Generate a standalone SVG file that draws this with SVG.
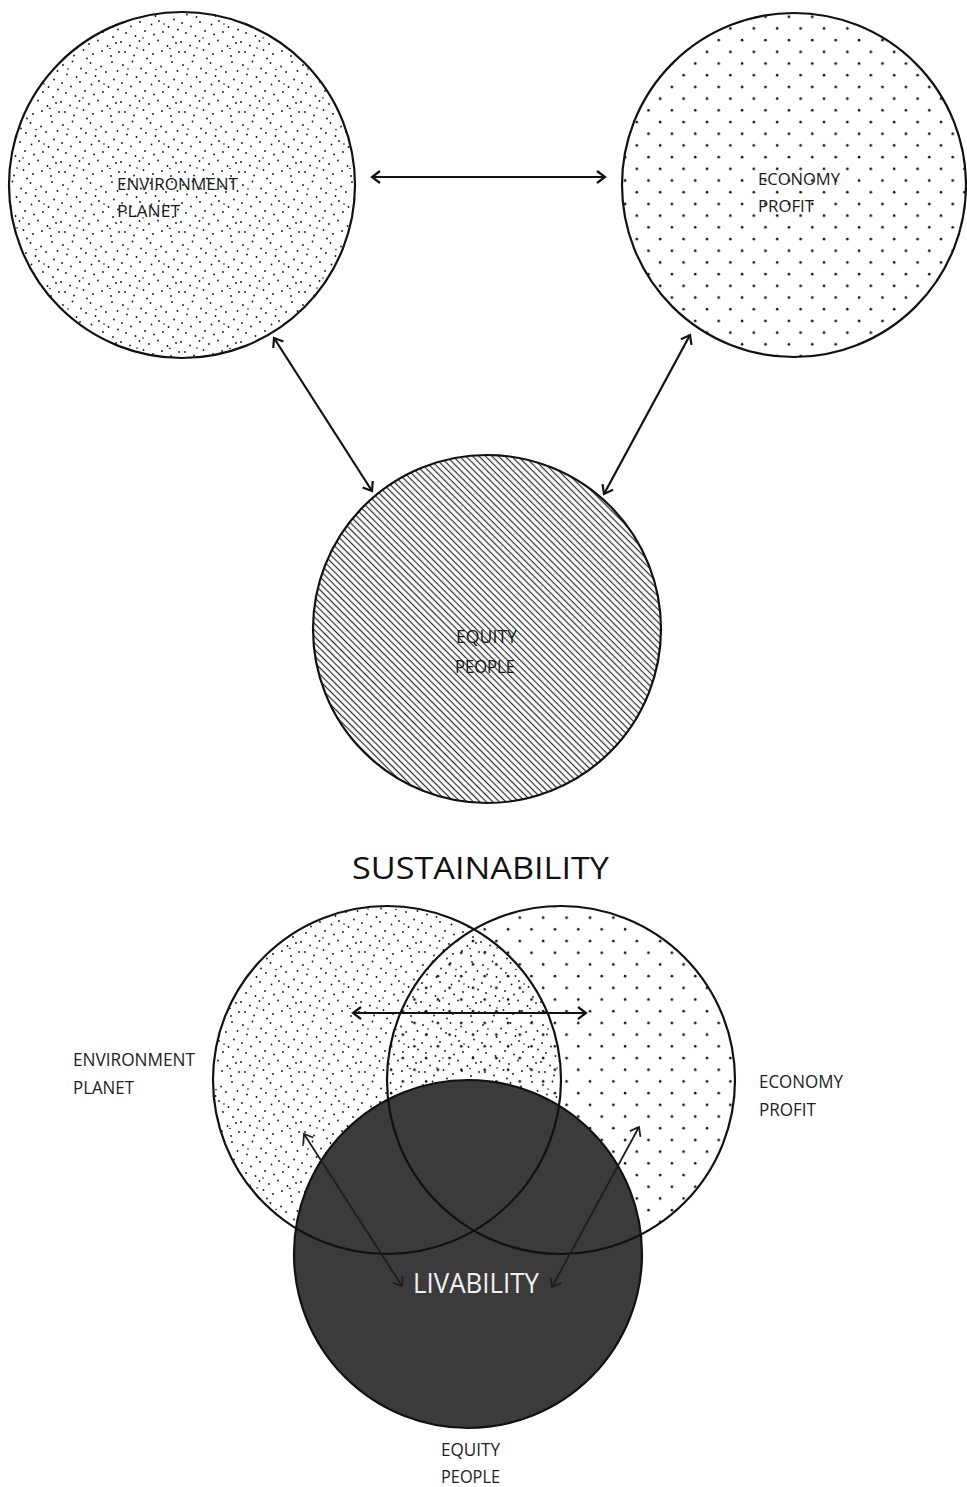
<svg xmlns="http://www.w3.org/2000/svg" width="967" height="1487" viewBox="0 0 967 1487">
<style>
.ring{fill:none;stroke:#111;stroke-width:2.2}
.conn{stroke:#111;stroke-width:2.2;fill:none}
.conn2{stroke:#1e1e1e;stroke-width:1.8;fill:none}
.lbl{font-family:"Open Sans","Noto Sans",sans-serif;fill:#1a1a1a}
.lblb{font-family:"Open Sans","Noto Sans",sans-serif;fill:#222}
</style>
<defs>
<pattern id="stip" width="60" height="60" patternUnits="userSpaceOnUse">
<g fill="#111">
<circle cx="3" cy="5" r="0.9"/><circle cx="12.5" cy="1.5" r="0.9"/><circle cx="21" cy="8.5" r="0.9"/><circle cx="30.5" cy="3" r="0.9"/><circle cx="41" cy="6.5" r="0.9"/><circle cx="52" cy="2" r="0.9"/><circle cx="57.5" cy="11" r="0.9"/>
<circle cx="7" cy="14.5" r="0.9"/><circle cx="16.5" cy="17" r="0.9"/><circle cx="26" cy="13" r="0.9"/><circle cx="35.5" cy="16" r="0.9"/><circle cx="46" cy="12" r="0.9"/><circle cx="54" cy="19.5" r="0.9"/>
<circle cx="2" cy="23" r="0.9"/><circle cx="11" cy="26.5" r="0.9"/><circle cx="20" cy="22" r="0.9"/><circle cx="31.5" cy="24.5" r="0.9"/><circle cx="39" cy="21" r="0.9"/><circle cx="48.5" cy="27" r="0.9"/><circle cx="58" cy="29.5" r="0.9"/>
<circle cx="6" cy="33" r="0.9"/><circle cx="15.5" cy="36" r="0.9"/><circle cx="25" cy="31" r="0.9"/><circle cx="34" cy="34.5" r="0.9"/><circle cx="43" cy="32" r="0.9"/><circle cx="53" cy="37" r="0.9"/>
<circle cx="1" cy="42" r="0.9"/><circle cx="10" cy="45.5" r="0.9"/><circle cx="19.5" cy="41" r="0.9"/><circle cx="29" cy="44" r="0.9"/><circle cx="38" cy="40.5" r="0.9"/><circle cx="47.5" cy="46" r="0.9"/><circle cx="56" cy="43" r="0.9"/>
<circle cx="5" cy="52" r="0.9"/><circle cx="14" cy="55.5" r="0.9"/><circle cx="23.5" cy="50" r="0.9"/><circle cx="33" cy="54" r="0.9"/><circle cx="42" cy="51" r="0.9"/><circle cx="51" cy="56" r="0.9"/><circle cx="59" cy="52" r="0.9"/><circle cx="27" cy="58.5" r="0.9"/>
<circle cx="8" cy="9" r="0.8"/><circle cx="36" cy="9.5" r="0.8"/><circle cx="23" cy="38" r="0.8"/><circle cx="44" cy="24" r="0.8"/><circle cx="17" cy="48" r="0.8"/><circle cx="50" cy="48.5" r="0.8"/>
</g>
</pattern>
<pattern id="dots" width="23.4" height="23.4" patternUnits="userSpaceOnUse">
<circle cx="5" cy="5" r="1.3" fill="#111"/><circle cx="16.7" cy="16.7" r="1.3" fill="#111"/>
</pattern>
<pattern id="hatch" width="4.6" height="10" patternUnits="userSpaceOnUse" patternTransform="rotate(-45)">
<line x1="2.3" y1="0" x2="2.3" y2="10" stroke="#2a2a2a" stroke-width="1.2"/>
</pattern>
<marker id="ah" viewBox="-10 -8 12 16" refX="0" refY="0" markerWidth="12" markerHeight="16" markerUnits="userSpaceOnUse" orient="auto-start-reverse">
<path d="M-8,-6 L0,0 L-8,6" fill="none" stroke="#111" stroke-width="2.2"/>
</marker>
<marker id="ah2" viewBox="-10 -8 12 16" refX="0" refY="0" markerWidth="12" markerHeight="16" markerUnits="userSpaceOnUse" orient="auto-start-reverse">
<path d="M-8,-6 L0,0 L-8,6" fill="none" stroke="#1e1e1e" stroke-width="1.8"/>
</marker>
</defs>
<rect width="967" height="1487" fill="#fff"/>

<!-- Top diagram -->
<g id="node-environment">
<circle cx="182" cy="185" r="173" fill="url(#stip)"/>
<circle cx="182" cy="185" r="173" class="ring"/>
<text class="lbl" font-size="16.5" x="117" y="190" textLength="121" lengthAdjust="spacingAndGlyphs">ENVIRONMENT</text>
<text class="lbl" font-size="16.5" x="117" y="217" textLength="63" lengthAdjust="spacingAndGlyphs">PLANET</text>
</g>
<g id="node-economy">
<circle cx="794" cy="185" r="172" fill="url(#dots)"/>
<circle cx="794" cy="185" r="172" class="ring"/>
<text class="lbl" font-size="17" x="758" y="185" textLength="82" lengthAdjust="spacingAndGlyphs">ECONOMY</text>
<text class="lbl" font-size="17" x="758" y="212" textLength="56" lengthAdjust="spacingAndGlyphs">PROFIT</text>
</g>
<g id="node-equity">
<circle cx="487" cy="629" r="174" fill="url(#hatch)"/>
<circle cx="487" cy="629" r="174" class="ring"/>
<text class="lbl" font-size="17.5" x="456" y="643" textLength="61" lengthAdjust="spacingAndGlyphs">EQUITY</text>
<text class="lbl" font-size="17.5" x="455" y="673" textLength="60" lengthAdjust="spacingAndGlyphs">PEOPLE</text>
</g>
<g id="connectors-top">
<line class="conn" x1="372" y1="177" x2="605" y2="177" marker-start="url(#ah)" marker-end="url(#ah)"/>
<line class="conn" x1="274" y1="338" x2="372" y2="491" marker-start="url(#ah)" marker-end="url(#ah)"/>
<line class="conn" x1="690" y1="335" x2="604" y2="494" marker-start="url(#ah)" marker-end="url(#ah)"/>
</g>

<!-- Title -->
<text id="title" font-family="Open Sans, Noto Sans, sans-serif" font-size="31" x="352" y="879" textLength="257" lengthAdjust="spacingAndGlyphs" fill="#111">SUSTAINABILITY</text>

<!-- Bottom Venn -->
<g id="venn-environment">
<circle cx="387" cy="1080" r="174" fill="url(#stip)"/>
</g>
<g id="venn-economy">
<circle cx="561" cy="1080" r="174" fill="url(#dots)"/>
</g>
<g id="venn-equity">
<circle cx="468" cy="1254" r="174" fill="#3b3b3b"/>
</g>
<g id="venn-rings">
<circle cx="387" cy="1080" r="174" class="ring" stroke-width="2.5"/>
<circle cx="561" cy="1080" r="174" class="ring" stroke-width="2.5"/>
<circle cx="468" cy="1254" r="174" class="ring" stroke-width="2.5"/>
</g>
<g id="connectors-bottom">
<line class="conn" x1="353" y1="1013" x2="586" y2="1013" marker-start="url(#ah)" marker-end="url(#ah)"/>
<line class="conn2" x1="304" y1="1134" x2="402" y2="1286" marker-start="url(#ah2)" marker-end="url(#ah2)"/>
<line class="conn2" x1="639" y1="1127" x2="552" y2="1287" marker-start="url(#ah2)" marker-end="url(#ah2)"/>
</g>
<text id="livability" font-family="Open Sans, Noto Sans, sans-serif" font-size="26.5" x="413" y="1293" textLength="126" lengthAdjust="spacingAndGlyphs" fill="#f2f2f2">LIVABILITY</text>

<g id="label-environment">
<text class="lblb" font-size="18" x="73" y="1066" textLength="122" lengthAdjust="spacingAndGlyphs">ENVIRONMENT</text>
<text class="lblb" font-size="18" x="73" y="1094" textLength="61" lengthAdjust="spacingAndGlyphs">PLANET</text>
</g>
<g id="label-economy">
<text class="lblb" font-size="18" x="759" y="1088" textLength="84" lengthAdjust="spacingAndGlyphs">ECONOMY</text>
<text class="lblb" font-size="18" x="759" y="1116" textLength="57" lengthAdjust="spacingAndGlyphs">PROFIT</text>
</g>
<g id="label-equity">
<text class="lblb" font-size="18" x="441" y="1456" textLength="59" lengthAdjust="spacingAndGlyphs">EQUITY</text>
<text class="lblb" font-size="18" x="441" y="1483" textLength="59" lengthAdjust="spacingAndGlyphs">PEOPLE</text>
</g>
</svg>
